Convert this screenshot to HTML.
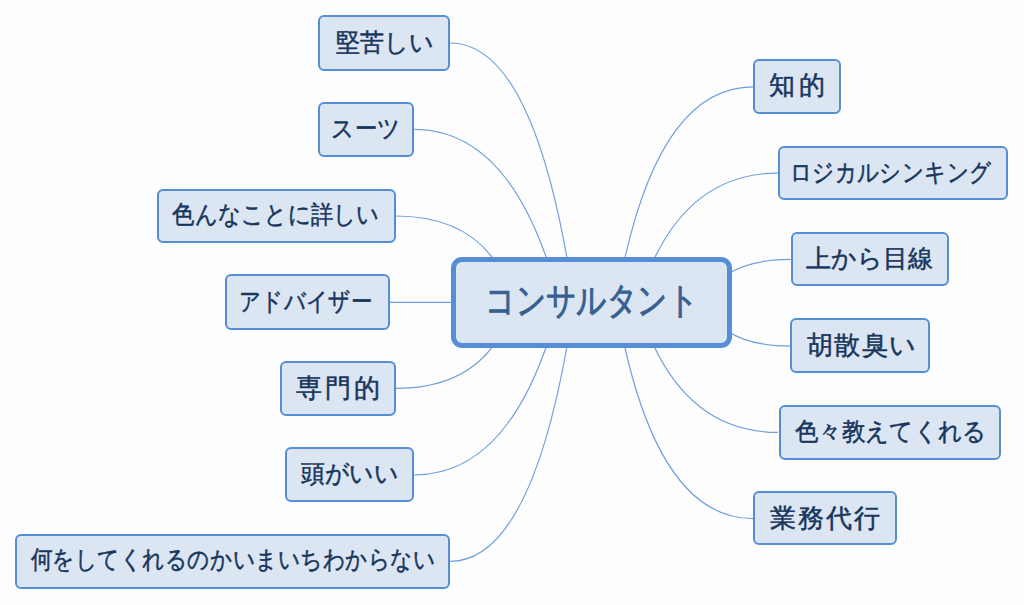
<!DOCTYPE html>
<html lang="ja"><head><meta charset="utf-8"><title>mindmap</title>
<style>
html,body{margin:0;padding:0;background:#fdfdfe;width:1024px;height:605px;overflow:hidden}
body{position:relative;font-family:"Liberation Sans",sans-serif}
svg{position:absolute;left:0;top:0}
.b{position:absolute;box-sizing:border-box;border:2px solid #558ed5;background:#dce6f2;border-radius:6px;display:flex;align-items:center;justify-content:center;color:#17365d;font-size:25px;white-space:nowrap;-webkit-text-stroke:0.5px #17365d}
.c{position:absolute;box-sizing:border-box;border:5px solid #558ed5;background:#dce6f2;border-radius:11px;display:flex;align-items:center;justify-content:center;color:#366092;font-size:37px;white-space:nowrap;-webkit-text-stroke:1.0px #366092}
.t{display:inline-block;line-height:1}
</style></head><body>

<svg width="1024" height="605" viewBox="0 0 1024 605"><g fill="none" stroke="#70a0dd" stroke-width="1.2">
<path d="M450.2 43.0 Q529.3 43.0 567.7 262"/>
<path d="M450.2 561.3 Q529.3 561.3 567.7 342.3"/>
<path d="M414.3 129.4 Q502.9 129.4 547.8 262"/>
<path d="M414.3 474.9 Q502.9 474.9 547.8 342.3"/>
<path d="M395.6 216 Q464.5 216 495.5 262"/>
<path d="M395.6 388.3 Q464.5 388.3 495.5 342.3"/>
<path d="M389.7 302.3 L455 302.3"/>
<path d="M753 86.9 Q662.7 86.9 624.0 262"/>
<path d="M753 518.6 Q662.7 518.6 624.0 343.5"/>
<path d="M778 173.1 Q693.7 173.1 652.7 262"/>
<path d="M778 432.4 Q693.7 432.4 652.7 343.5"/>
<path d="M790.7 259.4 Q749.1 259.4 726 275.3"/>
<path d="M790.7 346.1 Q749.1 346.1 726 330.2"/>
</g></svg>
<div class="b" style="left:318.0px;top:15.0px;width:132.3px;height:55.5px"><span class="t" style="transform:translate(0.85px,0.30px) scaleX(0.9620)">堅苦しい</span></div>
<div class="b" style="left:317.5px;top:101.5px;width:96.8px;height:55.1px"><span class="t" style="transform:translate(0.40px,-0.70px) scaleX(0.8975)">スーツ</span></div>
<div class="b" style="left:156.5px;top:188.5px;width:239.1px;height:54.0px"><span class="t" style="transform:translate(-0.07px,-1.00px) scaleX(0.8937)">色んなことに詳しい</span></div>
<div class="b" style="left:225.0px;top:274.3px;width:164.7px;height:55.3px"><span class="t" style="transform:translate(-2.05px,-0.45px) scaleX(0.8589)">アドバイザー</span></div>
<div class="b" style="left:280.0px;top:361.0px;width:115.5px;height:54.5px"><span class="t" style="transform:translate(2.00px,0.00px) scaleX(1.0000);letter-spacing:3.00px;font-size:26px">専門的</span></div>
<div class="b" style="left:284.7px;top:447.3px;width:129.8px;height:54.6px"><span class="t" style="transform:translate(0.35px,-1.40px) scaleX(0.9565)">頭がいい</span></div>
<div class="b" style="left:15.2px;top:533.7px;width:435.0px;height:55.2px"><span class="t" style="transform:translate(0.45px,-1.80px) scaleX(0.8668)">何をしてくれるのかいまいちわからない</span></div>
<div class="b" style="left:753.0px;top:59.1px;width:87.8px;height:54.5px"><span class="t" style="transform:translate(2.25px,-0.65px) scaleX(1.0000);letter-spacing:4.50px;font-size:26px">知的</span></div>
<div class="b" style="left:778.0px;top:146.0px;width:229.5px;height:54.0px"><span class="t" style="transform:translate(-2.36px,-0.75px) scaleX(0.8596)">ロジカルシンキング</span></div>
<div class="b" style="left:790.7px;top:232.1px;width:158.0px;height:53.7px"><span class="t" style="transform:translate(0.20px,-0.40px) scaleX(1.0000)">上から目線</span></div>
<div class="b" style="left:790.4px;top:318.4px;width:139.9px;height:54.5px"><span class="t" style="transform:translate(1.80px,-0.65px) scaleX(1.0000);letter-spacing:1.40px;font-size:26px">胡散臭い</span></div>
<div class="b" style="left:779.0px;top:405.0px;width:222.0px;height:54.6px"><span class="t" style="transform:translate(0.30px,-1.10px) scaleX(0.9363)">色々教えてくれる</span></div>
<div class="b" style="left:753.1px;top:491.25px;width:144.2px;height:54.0px"><span class="t" style="transform:translate(0.90px,-0.20px) scaleX(1.0000);letter-spacing:2.20px;font-size:26px">業務代行</span></div>
<div class="c" style="left:451.0px;top:257.0px;width:280.8px;height:90.5px"><span class="t" style="transform:translate(0.67px,-2.50px) scaleX(0.8016)">コンサルタント</span></div>
</body></html>
